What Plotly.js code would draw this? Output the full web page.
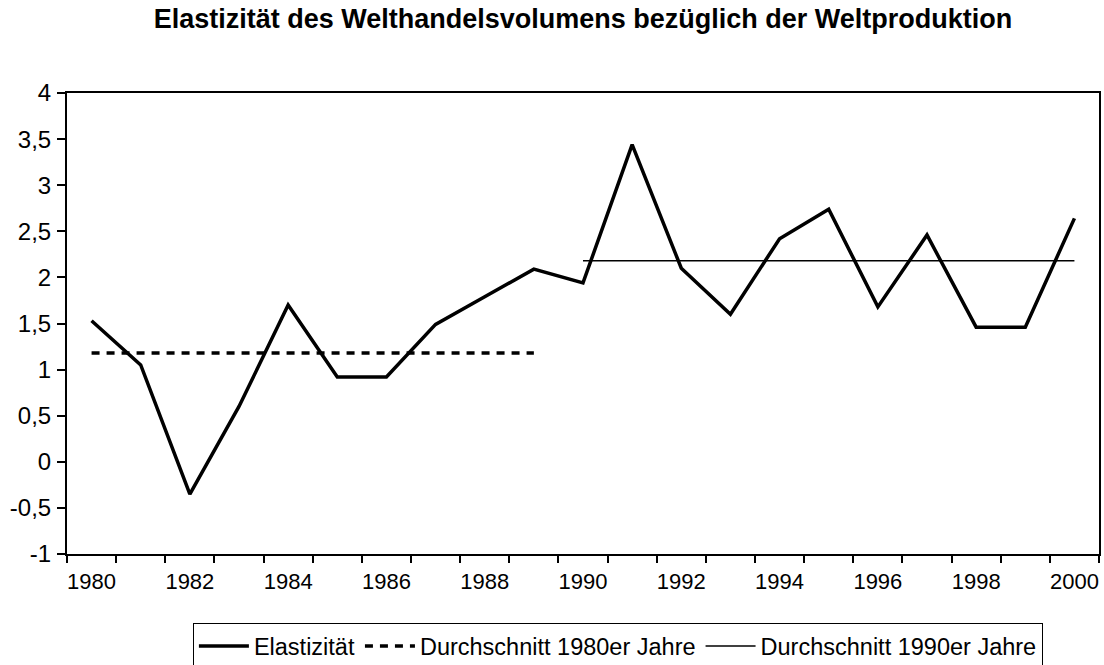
<!DOCTYPE html>
<html>
<head>
<meta charset="utf-8">
<script src="https://cdn.plot.ly/plotly-3.0.1.min.js"></script>
<style>html,body{margin:0;padding:0;background:#fff;}#chart{width:1104px;height:665px;}</style>
</head>
<body>
<div id="chart"></div>
<script>
const years = [1980,1981,1982,1983,1984,1985,1986,1987,1988,1989,1990,1991,1992,1993,1994,1995,1996,1997,1998,1999,2000];
const elasticity = [1.53,1.05,-0.35,0.60,1.70,0.92,0.92,1.49,1.79,2.09,1.94,3.44,2.10,1.60,2.42,2.74,1.68,2.46,1.46,1.46,2.64];
const avg80Years = [1980,1989];
const avg80Value = [1.18,1.18];
const avg90Years = [1990,2000];
const avg90Value = [2.18,2.18];
const labelYears = [1980,1982,1984,1986,1988,1990,1992,1994,1996,1998,2000];
const labelText = ['1980','1982','1984','1986','1988','1990','1992','1994','1996','1998','2000'];
const yTickVals = [-1,-0.5,0,0.5,1,1.5,2,2.5,3,3.5,4];
const yTickText = ['-1','-0,5','0','0,5','1','1,5','2','2,5','3','3,5','4'];
const boundaryTicks = [];
for (let i = 0; i <= years.length; i++) boundaryTicks.push(years[0] - 0.5 + i);

const FONT = "Liberation Sans, Arial, Helvetica, sans-serif";

const traces = [
  {x: years, y: elasticity, type: 'scatter', mode: 'lines', name: 'Elastizität',
   line: {color: '#000', width: 3.5}},
  {x: avg80Years, y: avg80Value, type: 'scatter', mode: 'lines', name: 'Durchschnitt 1980er Jahre',
   line: {color: '#000', width: 3.5, dash: '8px,7px'}},
  {x: avg90Years, y: avg90Value, type: 'scatter', mode: 'lines', name: 'Durchschnitt 1990er Jahre',
   line: {color: '#000', width: 1.5}}
];

const layout = {
  width: 1104, height: 665,
  paper_bgcolor: '#fff', plot_bgcolor: '#fff',
  separators: ', ',
  margin: {l: 67, r: 5, t: 93, b: 111, autoexpand: false},
  font: {family: FONT, color: '#000', size: 21},
  title: {text: '<b>Elastizität des Welthandelsvolumens bezüglich der Weltproduktion</b>',
          font: {family: FONT, size: 27, color: '#000'},
          xref: 'paper', x: 0.5, xanchor: 'center', yref: 'container', y: 0.972, yanchor: 'middle'},
  xaxis: {range: [1979.5, 2000.5], tickmode: 'array', tickvals: labelYears, ticktext: labelText,
          ticks: '', showgrid: false, zeroline: false, showline: true, linecolor: '#000', linewidth: 2,
          mirror: true, ticklabelstandoff: 7, tickfont: {family: FONT, size: 22, color: '#000'},
          minor: {tickmode: 'array', tickvals: boundaryTicks, ticks: 'outside', ticklen: 7, tickwidth: 2, tickcolor: '#000', showgrid: false}},
  yaxis: {range: [-1, 4], tickmode: 'array', tickvals: yTickVals, ticktext: yTickText, ticks: 'outside', ticklen: 8, tickwidth: 2,
          tickcolor: '#000', showgrid: false, zeroline: false, showline: true, linecolor: '#000', linewidth: 2,
          mirror: true, tickfont: {family: FONT, size: 24, color: '#000'}, ticklabelstandoff: 1},
  showlegend: true,
  legend: {orientation: 'h', x: 0.122, xanchor: 'left', y: -0.15, yanchor: 'top', itemwidth: 50,
           bordercolor: '#000', borderwidth: 1, bgcolor: '#fff', font: {size: 23.5, family: FONT},
           traceorder: 'normal'}
};

Plotly.newPlot('chart', traces, layout, {displayModeBar: false, staticPlot: true});
</script>
</body>
</html>
